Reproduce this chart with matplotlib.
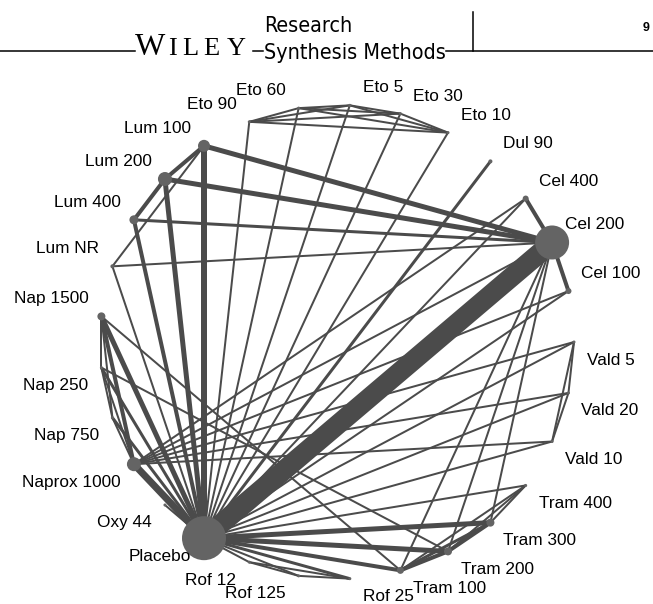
import matplotlib.pyplot as plt
import numpy as np
from matplotlib.patches import Circle
from matplotlib import font_manager

plt.rcParams['font.family'] = ['Liberation Sans', 'DejaVu Sans']

# treatments in the order they sit round the circle (counter-clockwise, from 3 o'clock + 1 step)
treatments = ['Cel 100', 'Cel 200', 'Cel 400', 'Dul 90', 'Eto 10', 'Eto 30', 'Eto 5',
              'Eto 60', 'Eto 90', 'Lum 100', 'Lum 200', 'Lum 400', 'Lum NR',
              'Nap 1500', 'Nap 250', 'Nap 750', 'Naprox 1000', 'Oxy 44', 'Placebo',
              'Rof 12', 'Rof 125', 'Rof 25', 'Tram 100', 'Tram 200', 'Tram 300',
              'Tram 400', 'Vald 10', 'Vald 20', 'Vald 5']
# node radius (px), roughly the number of patients
node_size = [3, 17, 3, 2, 1.5, 1.5, 1.5, 1.5, 1.5, 6, 7, 4.5, 2,
             4, 1.5, 1.5, 7, 1.5, 22,
             1.5, 1.5, 1.5, 3.5, 4, 4, 1.5, 1.5, 1.5, 1.5]

# direct comparisons and line width (px), roughly the number of studies
comparisons = [
    ('Placebo', 'Cel 200'), ('Placebo', 'Naprox 1000'), ('Placebo', 'Lum 100'),
    ('Placebo', 'Lum 200'), ('Placebo', 'Lum 400'), ('Placebo', 'Lum NR'),
    ('Placebo', 'Eto 90'), ('Placebo', 'Eto 60'), ('Placebo', 'Eto 5'),
    ('Placebo', 'Eto 30'), ('Placebo', 'Eto 10'), ('Placebo', 'Dul 90'),
    ('Placebo', 'Cel 400'), ('Placebo', 'Cel 100'), ('Placebo', 'Vald 5'),
    ('Placebo', 'Vald 20'), ('Placebo', 'Vald 10'), ('Placebo', 'Tram 400'),
    ('Placebo', 'Tram 300'), ('Placebo', 'Tram 200'), ('Placebo', 'Tram 100'),
    ('Placebo', 'Rof 25'), ('Placebo', 'Rof 125'), ('Placebo', 'Rof 12'),
    ('Placebo', 'Oxy 44'), ('Placebo', 'Nap 1500'), ('Placebo', 'Nap 750'),
    ('Placebo', 'Nap 250'),
    ('Cel 200', 'Lum 100'), ('Cel 200', 'Lum 200'), ('Cel 200', 'Lum 400'),
    ('Cel 200', 'Lum NR'), ('Cel 200', 'Cel 400'), ('Cel 200', 'Cel 100'),
    ('Cel 200', 'Naprox 1000'), ('Cel 200', 'Tram 100'), ('Cel 200', 'Tram 200'),
    ('Cel 200', 'Tram 300'),
    ('Naprox 1000', 'Nap 1500'), ('Naprox 1000', 'Nap 250'), ('Naprox 1000', 'Nap 750'),
    ('Naprox 1000', 'Cel 400'), ('Naprox 1000', 'Cel 100'), ('Naprox 1000', 'Vald 5'),
    ('Naprox 1000', 'Vald 20'), ('Naprox 1000', 'Vald 10'),
    ('Nap 1500', 'Nap 250'), ('Nap 1500', 'Nap 750'), ('Nap 250', 'Nap 750'),
    ('Nap 1500', 'Tram 100'), ('Nap 250', 'Tram 200'),
    ('Lum 100', 'Lum 200'), ('Lum 200', 'Lum 400'), ('Lum 100', 'Lum NR'),
    ('Eto 90', 'Eto 60'), ('Eto 90', 'Eto 5'), ('Eto 90', 'Eto 30'), ('Eto 90', 'Eto 10'),
    ('Eto 60', 'Eto 5'), ('Eto 60', 'Eto 30'), ('Eto 60', 'Eto 10'),
    ('Eto 5', 'Eto 30'), ('Eto 5', 'Eto 10'), ('Eto 30', 'Eto 10'),
    ('Vald 5', 'Vald 20'), ('Vald 20', 'Vald 10'), ('Vald 5', 'Vald 10'),
    ('Tram 400', 'Tram 300'), ('Tram 400', 'Tram 200'), ('Tram 400', 'Tram 100'),
    ('Tram 300', 'Tram 200'), ('Tram 200', 'Tram 100'), ('Tram 300', 'Tram 100'),
    ('Rof 12', 'Rof 25'), ('Rof 125', 'Rof 25'), ('Rof 12', 'Rof 125'),
]
thickness = [20, 7, 6, 5, 4, 2,
             2, 2, 2, 2, 2, 3,
             2, 2, 2, 2, 2, 2,
             5, 5, 4, 3, 2, 2,
             2, 5, 3, 3,
             5, 5, 3, 2, 4, 4,
             2, 2, 2, 2,
             4, 2, 2, 2, 2, 2, 2, 2,
             2, 2, 2, 2, 2,
             4, 4, 2,
             2, 2, 2, 2, 2, 2, 2, 2, 2, 2,
             2, 2, 2,
             2, 2, 2, 4, 4, 3,
             2, 2, 2]

W, H = 653, 604
px = 72 / 100  # points per pixel
edge_col = '#4b4b4b'
node_col = '#646464'

fig = plt.figure(figsize=(W / 100, H / 100), dpi=100)
ax = fig.add_axes([0, 0, 1, 1])
ax.set_xlim(0, W)
ax.set_ylim(H, 0)
ax.set_aspect('equal')
ax.axis('off')

# circular layout
cx, cy, R = 337, 342, 237
n = len(treatments)
ang = 2 * np.pi * (np.arange(n) + 1) / n
xs = cx + R * np.cos(ang)
ys = cy - R * np.sin(ang)
pos = {t: (xs[i], ys[i]) for i, t in enumerate(treatments)}

for (a, b), w in zip(comparisons, thickness):
    ax.plot([pos[a][0], pos[b][0]], [pos[a][1], pos[b][1]], color=edge_col,
            lw=w * px, solid_capstyle='butt', zorder=1)

for i, t in enumerate(treatments):
    ax.add_patch(Circle(pos[t], node_size[i], color=node_col, zorder=2, lw=0))
    right = np.cos(ang[i]) > 0
    up = np.sin(ang[i]) > 1e-9
    ax.annotate(t, pos[t], xytext=((13 if right else -13) * px, (17.5 if up else -18) * px),
                textcoords='offset points', ha='left' if right else 'right', va='center',
                fontsize=12.4, color='black', zorder=3)

# journal header
ax.plot([0, 135], [51, 51], color='black', lw=1.1)
ax.plot([253, 263], [51, 51], color='black', lw=1.1)
ax.plot([446, W], [51, 51], color='black', lw=1.1)
ax.plot([473, 473], [12, 51], color='black', lw=1.1)
ax.text(135, 55, 'W', fontsize=23, family='Liberation Serif', va='baseline')
for ch, x in zip('ILEY', [168, 182, 203, 227]):
    ax.text(x, 55, ch, fontsize=19, family='Liberation Serif', va='baseline')

# narrow sans for the journal name, if one is installed
narrow = None
for f in font_manager.fontManager.ttflist:
    tag = (f.name + ' ' + str(f.stretch)).lower()
    if ('condensed' in tag or 'narrow' in tag) and 'mono' not in tag and 'serif' not in tag \
            and f.weight in (400, 'normal', 'regular') and f.style == 'normal':
        narrow = f.fname
        break
hp = font_manager.FontProperties(fname=narrow) if narrow else font_manager.FontProperties(family='Liberation Sans')
hp.set_size(21)
t1 = ax.text(264, 32, 'Research', fontproperties=hp, va='baseline')
t2 = ax.text(264, 59, 'Synthesis Methods', fontproperties=hp, va='baseline')
fig.canvas.draw()
wid = t2.get_window_extent().width
scale = min(1.0, 181 / wid)
for t in (t1, t2):
    t.set_fontsize(21 * scale)
ax.text(646, 28, '9', fontsize=9, fontweight='bold', va='center', ha='center')

fig.savefig('out.png', dpi=100)
